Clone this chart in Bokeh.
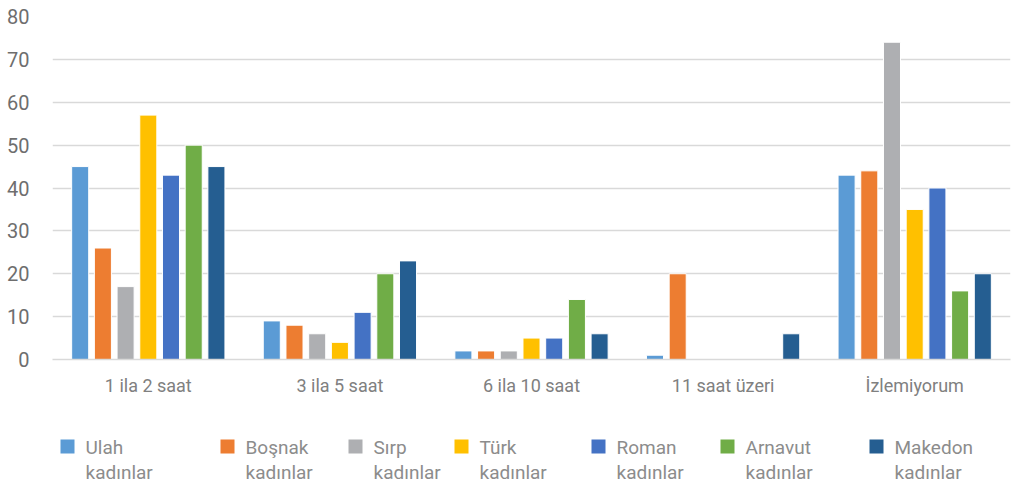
from bokeh.plotting import figure
from bokeh.layouts import column
from bokeh.models import FactorRange, Range1d, ColumnDataSource
from bokeh.core.properties import value
from bokeh.transform import dodge
from bokeh.embed import file_html
from bokeh.resources import INLINE

categories = ["1 ila 2 saat", "3 ila 5 saat", "6 ila 10 saat", "11 saat üzeri", "İzlemiyorum"]
series_names = ["Ulah\nkadınlar", "Boşnak\nkadınlar", "Sırp\nkadınlar", "Türk\nkadınlar",
                "Roman\nkadınlar", "Arnavut\nkadınlar", "Makedon\nkadınlar"]
ulah = [45, 9, 2, 1, 43]
bosnak = [26, 8, 2, 20, 44]
sirp = [17, 6, 2, 0, 74]
turk = [57, 4, 5, 0, 35]
roman = [43, 11, 5, 0, 40]
arnavut = [50, 20, 14, 0, 16]
makedon = [45, 23, 6, 6, 20]
yticks = [0, 10, 20, 30, 40, 50, 60, 70, 80]

series = [ulah, bosnak, sirp, turk, roman, arnavut, makedon]
colors = ["#5B9BD5", "#ED7D31", "#AEAFB2", "#FFC000", "#4472C4", "#70AD47", "#255E91"]

data = {"cat": categories}
for i, s in enumerate(series):
    data["s%d" % i] = s
source = ColumnDataSource(data)

FONT = "Roboto"

p = figure(width=1012, height=410, x_range=FactorRange(*categories), y_range=Range1d(0, 80),
           output_backend="svg", toolbar_location=None,
           min_border_left=52, min_border_right=2, min_border_top=16, min_border_bottom=51)
p.outline_line_color = None

pitch = 0.1185
bw = 0.089
for i, s in enumerate(series):
    p.vbar(x=dodge("cat", (i - 3) * pitch, range=p.x_range), top="s%d" % i, width=bw,
           source=source, fill_color=colors[i], line_color="white", line_width=1)

# axes
p.xaxis.axis_line_color = "#D9D9D9"
p.xaxis.axis_line_width = 1.5
p.xaxis.major_tick_line_color = None
p.xaxis.minor_tick_line_color = None
p.xaxis.major_tick_out = 0
p.xaxis.major_tick_in = 0
p.xaxis.major_label_text_font = FONT
p.xaxis.major_label_text_font_size = "18px"
p.xaxis.major_label_text_color = "#808080"
p.xaxis.major_label_standoff = 15

p.yaxis.axis_line_color = None
p.yaxis.major_tick_line_color = None
p.yaxis.minor_tick_line_color = None
p.yaxis.major_tick_out = 0
p.yaxis.major_tick_in = 0
p.yaxis.ticker = yticks
p.yaxis.major_label_text_font = FONT
p.yaxis.major_label_text_font_size = "20px"
p.yaxis.major_label_text_color = "#6E6E6E"
p.yaxis.major_label_standoff = 23

p.xgrid.grid_line_color = None
p.ygrid.grid_line_color = "#D9D9D9"
p.ygrid.grid_line_width = 1.5

# legend strip below the chart (its frame is aligned with the chart frame: x 52..1010)
legend_x = [60, 220, 348, 454, 591, 720, 869]
lg = figure(width=1012, height=76, x_range=Range1d(52, 1010), y_range=Range1d(76, 0),
            output_backend="svg", toolbar_location=None, x_axis_type=None, y_axis_type=None,
            min_border_left=52, min_border_right=2, min_border_top=0, min_border_bottom=0)
lg.outline_line_color = None
lg.xgrid.visible = False
lg.ygrid.visible = False
lsrc = ColumnDataSource(dict(x=[v + 7 for v in legend_x], tx=[v + 25 for v in legend_x],
                             y=[36] * 7, ty=[25] * 7, color=colors, label=series_names))
lg.scatter(x="x", y="y", marker="square", size=14, fill_color="color", line_color=None, source=lsrc)
lg.text(x="tx", y="ty", text="label", source=lsrc, text_font=value(FONT), text_font_size="19px",
        text_color="#8C8C8C", text_baseline="top", text_align="left", text_line_height=1.12)

layout = column(p, lg, spacing=0)
open("out.html", "w").write(file_html(layout, INLINE))
